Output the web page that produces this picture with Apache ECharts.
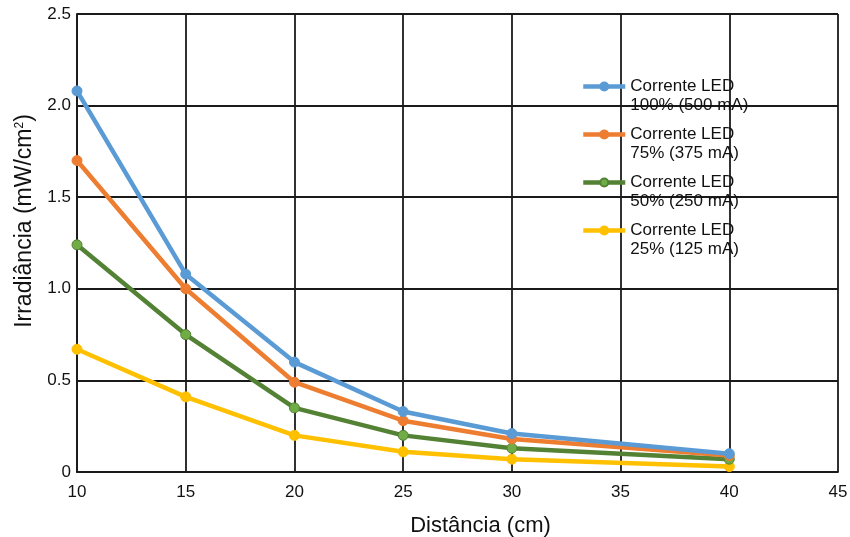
<!DOCTYPE html>
<html>
<head>
<meta charset="utf-8">
<script src="https://cdn.jsdelivr.net/npm/echarts@6/dist/echarts.min.js"></script>
<style>
  html, body { margin: 0; padding: 0; background: #fff; }
  #chart { width: 850px; height: 537px; }
</style>
</head>
<body>
<div id="chart"></div>
<script>
// Irradiance versus distance for four LED drive currents
const distances = [10, 15, 20, 25, 30, 40];
const seriesNames = [
  'Corrente LED\n100% (500 mA)',
  'Corrente LED\n75% (375 mA)',
  'Corrente LED\n50% (250 mA)',
  'Corrente LED\n25% (125 mA)'
];
const led100 = [2.08, 1.08, 0.60, 0.33, 0.21, 0.10];
const led75  = [1.70, 1.00, 0.49, 0.28, 0.18, 0.09];
const led50  = [1.24, 0.75, 0.35, 0.20, 0.13, 0.07];
const led25  = [0.67, 0.41, 0.20, 0.11, 0.07, 0.03];
const yTickLabels = { 0: '0', 0.5: '0.5', 1: '1.0', 1.5: '1.5', 2: '2.0', 2.5: '2.5' };

const lineColors   = ['#5B9BD5', '#ED7D31', '#548235', '#FFC000'];
const markerColors = ['#5B9BD5', '#ED7D31', '#70AD47', '#FFC000'];
const allValues = [led100, led75, led50, led25];

const font = 'Liberation Sans, Arial, sans-serif';
const gridColor = '#1a1a1a';

const chart = echarts.init(document.getElementById('chart'), null, { renderer: 'canvas' });

chart.setOption({
  animation: false,
  backgroundColor: '#ffffff',
  textStyle: { fontFamily: font, color: '#000' },
  grid: { left: 77, right: 12, top: 14, bottom: 65, containLabel: false, outerBoundsMode: 'none' },
  legend: {
    orient: 'vertical',
    left: 576,
    top: 53,
    itemWidth: 42,
    itemHeight: 10,
    itemGap: -9,
    data: seriesNames,
    lineStyle: { width: 4.5 },
    // blank first line keeps the marker level with the first text line
    formatter: name => '\u00a0\n' + name,
    textStyle: {
      fontFamily: font,
      fontSize: 17,
      color: '#111',
      lineHeight: 19
    }
  },
  xAxis: {
    type: 'value',
    min: 10,
    max: 45,
    interval: 5,
    name: 'Distância (cm)',
    nameLocation: 'middle',
    nameGap: 43,
    nameTextStyle: { fontFamily: font, fontSize: 22, color: '#111', padding: [0, 0, 0, 46] },
    axisLine: { show: true, lineStyle: { color: gridColor, width: 1.8 } },
    axisTick: { show: false },
    axisLabel: { fontFamily: font, fontSize: 17, color: '#111', margin: 12 },
    splitLine: { show: true, lineStyle: { color: gridColor, width: 1.8 } }
  },
  yAxis: {
    type: 'value',
    min: 0,
    max: 2.5,
    interval: 0.5,
    name: 'Irradiância (mW/cm{sup|2})',
    nameLocation: 'middle',
    nameGap: 38,
    nameRotate: 90,
    nameTextStyle: {
      fontFamily: font,
      fontSize: 23,
      color: '#111',
      padding: [0, 0, 0, 44],
      rich: {
        sup: { fontFamily: font, fontSize: 12, color: '#111', verticalAlign: 'top', padding: [0, 0, 10, 0] }
      }
    },
    axisLine: { show: true, lineStyle: { color: gridColor, width: 1.8 } },
    axisTick: { show: false },
    axisLabel: {
      fontFamily: font,
      fontSize: 17,
      color: '#111',
      margin: 6,
      formatter: v => yTickLabels[v] !== undefined ? yTickLabels[v] : String(v)
    },
    splitLine: { show: true, lineStyle: { color: gridColor, width: 1.8 } }
  },
  series: seriesNames.map((name, i) => ({
    name: name,
    type: 'line',
    data: distances.map((d, j) => [d, allValues[i][j]]),
    symbol: 'circle',
    symbolSize: 10,
    lineStyle: { color: lineColors[i], width: 4.5 },
    itemStyle: { color: markerColors[i], borderColor: lineColors[i], borderWidth: 1 },
    z: 10 - i
  }))
});
</script>
</body>
</html>
